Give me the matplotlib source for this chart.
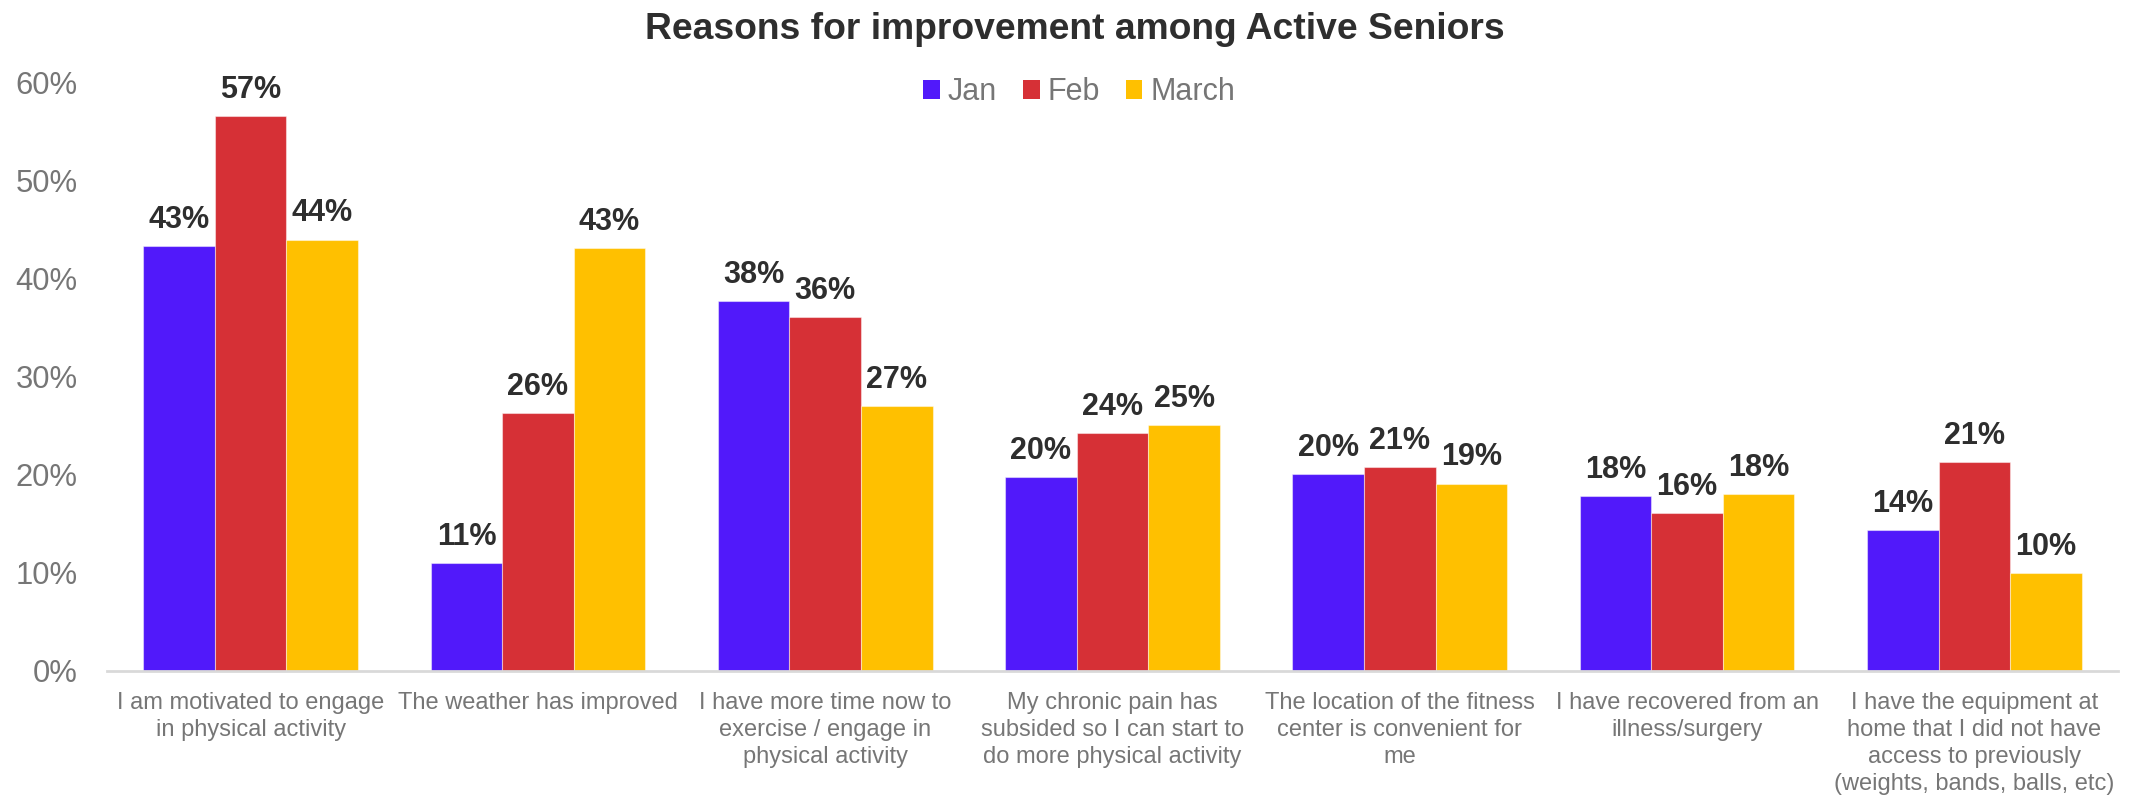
import matplotlib
matplotlib.use("Agg")
import matplotlib.pyplot as plt
from matplotlib.patches import Patch
import numpy as np

plt.rcParams['font.family'] = ['Liberation Sans', 'DejaVu Sans']

categories = [
    "I am motivated to engage\nin physical activity",
    "The weather has improved",
    "I have more time now to\nexercise / engage in\nphysical activity",
    "My chronic pain has\nsubsided so I can start to\ndo more physical activity",
    "The location of the fitness\ncenter is convenient for\nme",
    "I have recovered from an\nillness/surgery",
    "I have the equipment at\nhome that I did not have\naccess to previously\n(weights, bands, balls, etc)",
]
series_names = ["Jan", "Feb", "March"]
jan = [43.3, 11.0, 37.7, 19.8, 20.1, 17.8, 14.4]
feb = [56.6, 26.3, 36.1, 24.3, 20.8, 16.1, 21.3]
march = [44.0, 43.1, 27.0, 25.1, 19.1, 18.0, 10.0]
y_ticks = [0, 10, 20, 30, 40, 50, 60]

colors = ["#5119FA", "#D63036", "#FFC000"]
label_dark = "#2E2E2E"
axis_gray = "#767676"

fig = plt.figure(figsize=(21.31, 7.96), dpi=100)
ax = fig.add_axes([107 / 2131, 125.3 / 796, (2118 - 107) / 2131, (670.7 - 82.7) / 796])

x = np.arange(len(categories))
width = 0.249
for i, (name, vals, col) in enumerate(zip(series_names, [jan, feb, march], colors)):
    pos = x + (i - 1) * width
    ax.bar(pos, vals, width, color=col, edgecolor=(1, 1, 1, 0.45), linewidth=0.8,
           label=name, zorder=2)
    for px, v in zip(pos, vals):
        ax.annotate(f"{v:.0f}%", (px, v), xytext=(0, 13), textcoords="offset points",
                    ha="center", va="baseline", fontsize=22, fontweight="bold",
                    color=label_dark)

ax.set_xlim(-0.5, len(categories) - 0.5)
ax.set_ylim(0, 60)
ax.set_yticks(y_ticks)
ax.set_yticklabels([f"{t}%" for t in y_ticks])
ax.set_xticks(x)
ax.set_xticklabels(categories, fontsize=17, color=axis_gray, linespacing=1.3)
ax.tick_params(axis="y", length=0, pad=21, labelsize=22.3, labelcolor=axis_gray)
ax.tick_params(axis="x", length=0, pad=15)

for side in ["top", "right", "left"]:
    ax.spines[side].set_visible(False)
ax.spines["bottom"].set_color("#D9D9D9")
ax.spines["bottom"].set_linewidth(2)
ax.spines["bottom"].set_zorder(3)

fig.text(1075 / 2131, 1 - 39 / 796, "Reasons for improvement among Active Seniors",
         ha="center", va="baseline", fontsize=26.8, fontweight="bold", color=label_dark)

handles = [Patch(facecolor=c, edgecolor="none") for c in colors]
fig.legend(handles, series_names, loc="center", bbox_to_anchor=(1079 / 2131, 1 - 92 / 796),
           ncol=3, frameon=False, fontsize=22, labelcolor=axis_gray,
           handlelength=0.55, handleheight=0.6, handletextpad=0.25, columnspacing=0.85,
           borderaxespad=0, borderpad=0)

fig.savefig("out.png", dpi=100)
